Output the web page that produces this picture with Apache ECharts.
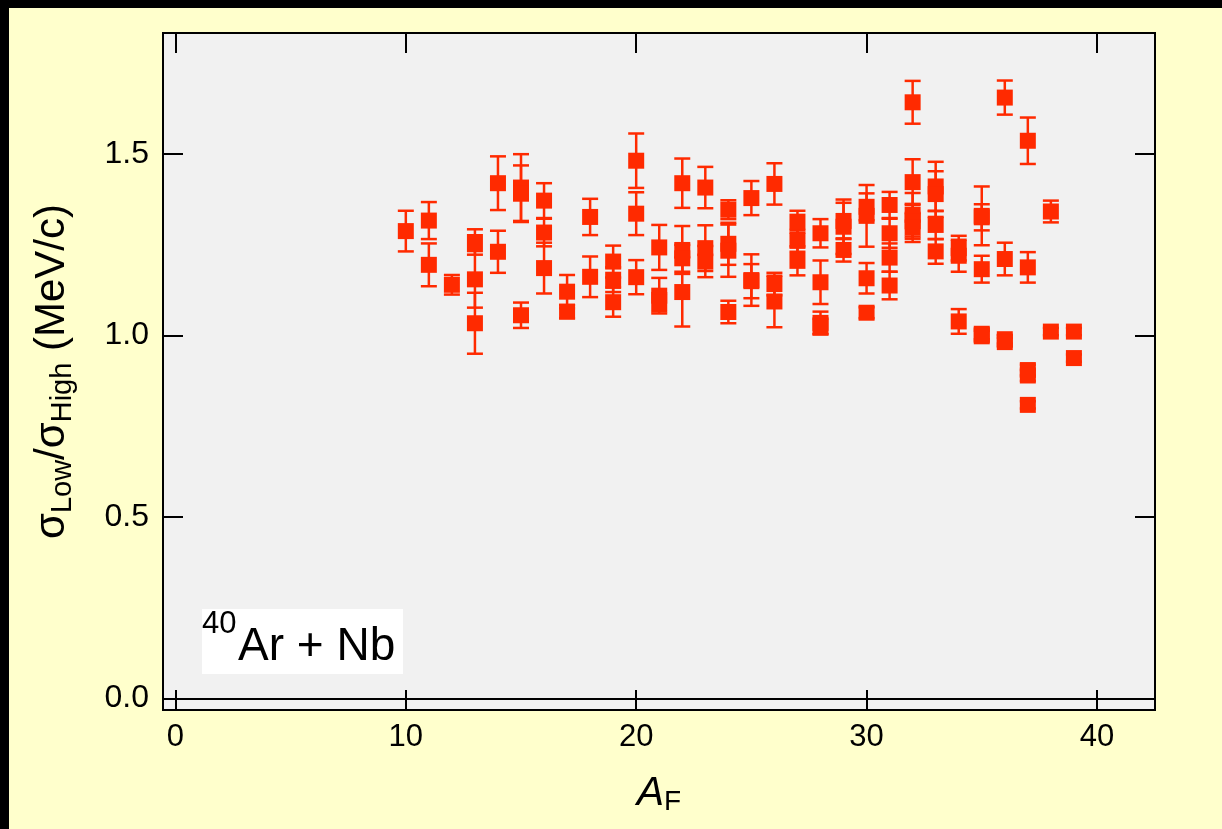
<!DOCTYPE html>
<html>
<head>
<meta charset="utf-8">
<script src="https://cdn.jsdelivr.net/npm/echarts@6/dist/echarts.min.js"></script>
<style>
html,body{margin:0;padding:0;background:#000;}
#chart{width:1222px;height:829px;}
</style>
</head>
<body>
<div id="chart"></div>
<script>
// A_F (fragment mass number) of each measured point
const afValues = [
  10,
  11, 11,
  12,
  13, 13, 13,
  14, 14,
  15, 15, 15,
  16, 16, 16,
  17, 17,
  18, 18,
  19, 19, 19,
  20, 20, 20,
  21, 21, 21,
  22, 22, 22, 22,
  23, 23, 23,
  24, 24, 24, 24,
  25, 25, 25,
  26, 26, 26,
  27, 27, 27,
  28, 28, 28, 28,
  29, 29, 29,
  30, 30, 30, 30,
  31, 31, 31, 31,
  32, 32, 32, 32, 32,
  33, 33, 33, 33,
  34, 34, 34,
  35, 35, 35, 35, 35,
  36, 36, 36, 36,
  37, 37, 37, 37, 37,
  38, 38,
  39, 39
];
// sigma_Low / sigma_High ratio
const ratioValues = [
  1.288,
  1.317, 1.195,
  1.140,
  1.258, 1.155, 1.034,
  1.420, 1.231,
  1.408, 1.391, 1.056,
  1.372, 1.284, 1.186,
  1.121, 1.066,
  1.327, 1.162,
  1.204, 1.154, 1.092,
  1.482, 1.336, 1.161,
  1.243, 1.110, 1.092,
  1.420, 1.236, 1.213, 1.120,
  1.408, 1.241, 1.204,
  1.347, 1.253, 1.234, 1.065,
  1.379, 1.153, 1.150,
  1.418, 1.142, 1.094,
  1.314, 1.261, 1.206,
  1.282, 1.147, 1.035, 1.025,
  1.316, 1.300, 1.236,
  1.355, 1.330, 1.158, 1.063,
  1.360, 1.282, 1.215, 1.138,
  1.643, 1.423, 1.333, 1.315, 1.298,
  1.411, 1.390, 1.305, 1.232,
  1.241, 1.220, 1.039,
  1.330, 1.326, 1.183, 1.005, 0.998,
  1.656, 1.211, 0.990, 0.982,
  1.537, 1.188, 0.905, 0.890, 0.809,
  1.342, 1.011,
  1.011, 0.938
];
// symmetric error of each ratio
const errValues = [
  0.056,
  0.051, 0.059,
  0.027,
  0.035, 0.078, 0.084,
  0.074, 0.058,
  0.092, 0.078, 0.035,
  0.048, 0.038, 0.070,
  0.046, 0.018,
  0.050, 0.056,
  0.044, 0.034, 0.040,
  0.075, 0.059, 0.047,
  0.062, 0.049, 0.025,
  0.068, 0.066, 0.037, 0.095,
  0.057, 0.063, 0.043,
  0.026, 0.058, 0.072, 0.031,
  0.047, 0.071, 0.047,
  0.057, 0.031, 0.071,
  0.030, 0.030, 0.040,
  0.039, 0.060, 0.031, 0.022,
  0.050, 0.075, 0.032,
  0.037, 0.085, 0.042, 0.015,
  0.036, 0.040, 0.039, 0.038,
  0.059, 0.063, 0.060, 0.048, 0.040,
  0.068, 0.063, 0.039, 0.034,
  0.034, 0.044, 0.034,
  0.081, 0.036, 0.037, 0.015, 0.015,
  0.047, 0.045, 0.012, 0.012,
  0.064, 0.042, 0.015, 0.015, 0.010,
  0.030, 0.010,
  0.010, 0.010
];
const xTickValues = [0, 10, 20, 30, 40];
const yTickValues = [0, 0.5, 1.0, 1.5];

const RED = '#ff2a00';
const FONT = 'Liberation Sans';
const points = afValues.map((a, i) => [a, ratioValues[i], errValues[i]]);

const chart = echarts.init(document.getElementById('chart'), null, {renderer: 'canvas'});

const xBase = {
  type: 'value', min: -0.54, max: 42.52,
  splitLine: {show: false},
  axisLine: {show: true, onZero: false, lineStyle: {color: '#000', width: 2}},
  axisTick: {show: true, inside: true, length: 20, customValues: xTickValues, lineStyle: {color: '#000', width: 2}}
};
const yBase = {
  type: 'value', min: -0.032, max: 1.834,
  splitLine: {show: false},
  axisLine: {show: true, onZero: false, lineStyle: {color: '#000', width: 2}},
  axisTick: {show: true, inside: true, length: 20, customValues: yTickValues, lineStyle: {color: '#000', width: 2}}
};

chart.setOption({
  backgroundColor: '#ffffcc',
  animation: false,
  textStyle: {fontFamily: FONT},
  grid: {
    left: 163, top: 33, right: 67, bottom: 119,
    show: true, backgroundColor: '#f1f1f1', borderColor: '#000', borderWidth: 2
  },
  graphic: [
    {type: 'rect', shape: {x: 0, y: 0, width: 1222, height: 8}, style: {fill: '#000'}, z: 100},
    {type: 'rect', shape: {x: 0, y: 0, width: 9, height: 829}, style: {fill: '#000'}, z: 100},
    {type: 'rect', shape: {x: 202, y: 609, width: 201, height: 65}, style: {fill: '#ffffff'}, z: 50},
    {type: 'text', x: 202, y: 624, z: 51,
      style: {text: '40', font: '31px "Liberation Sans"', fill: '#000', verticalAlign: 'middle', align: 'left'}},
    {type: 'text', x: 238, y: 647, z: 51,
      style: {text: 'Ar + Nb', font: '46px "Liberation Sans"', fill: '#000', verticalAlign: 'middle', align: 'left'}}
  ],
  xAxis: [
    Object.assign({}, xBase, {
      position: 'bottom',
      axisLabel: {show: true, customValues: xTickValues, fontSize: 31, color: '#000', margin: 12, fontFamily: FONT},
      name: '{a|A}{f|F}',
      nameLocation: 'middle',
      nameGap: 62,
      nameTextStyle: {
        rich: {
          a: {fontSize: 41, fontStyle: 'italic', fontFamily: FONT, color: '#000', lineHeight: 44, verticalAlign: 'middle'},
          f: {fontSize: 28, fontFamily: FONT, color: '#000', lineHeight: 30, verticalAlign: 'bottom'}
        }
      }
    }),
    Object.assign({}, xBase, {position: 'top', axisLabel: {show: false}})
  ],
  yAxis: [
    Object.assign({}, yBase, {
      position: 'left',
      axisLabel: {show: true, customValues: yTickValues, fontSize: 32, color: '#000', margin: 14, fontFamily: FONT,
        formatter: v => v.toFixed(1)},
      name: '{s|σ}{b|Low}{s|/σ}{b|High}{s| (MeV/c)}',
      nameLocation: 'middle',
      nameRotate: 90,
      nameGap: 86,
      nameTextStyle: {
        rich: {
          s: {fontSize: 42, fontFamily: FONT, color: '#000', lineHeight: 50, verticalAlign: 'middle'},
          b: {fontSize: 29, fontFamily: FONT, color: '#000', lineHeight: 30, verticalAlign: 'bottom'}
        }
      }
    }),
    Object.assign({}, yBase, {position: 'right', axisLabel: {show: false}})
  ],
  series: [
    {
      type: 'custom',
      xAxisIndex: 0, yAxisIndex: 0,
      data: points,
      encode: {x: 0, y: 1},
      z: 2,
      renderItem: function (params, api) {
        const x = api.value(0), y = api.value(1), e = api.value(2);
        const hi = api.coord([x, y + e]);
        const lo = api.coord([x, y - e]);
        const hw = 8;
        const st = {stroke: RED, lineWidth: 2.5};
        return {
          type: 'group',
          children: [
            {type: 'line', shape: {x1: hi[0], y1: hi[1], x2: lo[0], y2: lo[1]}, style: st},
            {type: 'line', shape: {x1: hi[0] - hw, y1: hi[1], x2: hi[0] + hw, y2: hi[1]}, style: st},
            {type: 'line', shape: {x1: lo[0] - hw, y1: lo[1], x2: lo[0] + hw, y2: lo[1]}, style: st}
          ]
        };
      }
    },
    {
      type: 'scatter',
      xAxisIndex: 0, yAxisIndex: 0,
      data: points.map(p => [p[0], p[1]]),
      symbol: 'rect',
      symbolSize: 16,
      itemStyle: {color: RED, opacity: 1},
      z: 3,
      markLine: {
        silent: true,
        symbol: ['none', 'none'],
        label: {show: false},
        lineStyle: {color: '#000', width: 2, type: 'solid'},
        data: [{yAxis: 0}]
      }
    }
  ]
});
</script>
</body>
</html>
